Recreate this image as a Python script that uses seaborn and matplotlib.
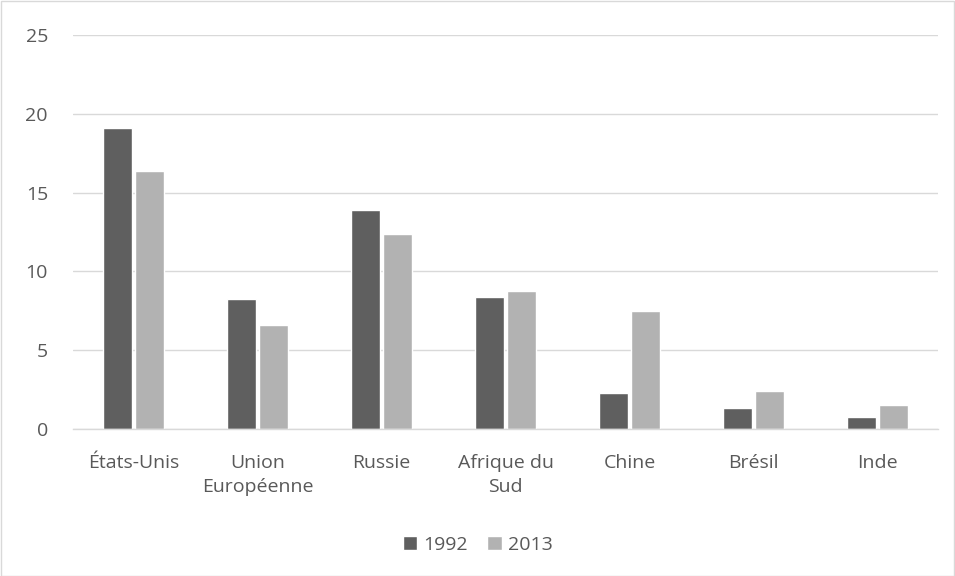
import matplotlib
matplotlib.use("Agg")
import matplotlib.pyplot as plt
import seaborn as sns
import pandas as pd
from matplotlib.patches import Rectangle

categories = ["États-Unis", "Union\nEuropéenne", "Russie", "Afrique du\nSud", "Chine", "Brésil", "Inde"]
values_1992 = [19.1, 8.25, 13.9, 8.35, 2.3, 1.35, 0.78]
values_2013 = [16.35, 6.6, 12.4, 8.75, 7.5, 2.38, 1.55]
years = ["1992", "2013"]
y_ticks = [0, 5, 10, 15, 20, 25]

df = pd.DataFrame({
    "pays": categories * 2,
    "valeur": values_1992 + values_2013,
    "annee": [years[0]] * len(categories) + [years[1]] * len(categories),
})

sns.set_theme(style="white")
plt.rcParams["font.family"] = ["Open Sans", "DejaVu Sans"]
text_color = "#595959"

fig = plt.figure(figsize=(9.55, 5.76), dpi=100)
ax = fig.add_axes([73 / 955, 1 - 429 / 576, (938 - 73) / 955, (429 - 35) / 576])

sns.barplot(data=df, x="pays", y="valeur", hue="annee", order=categories,
            hue_order=years, palette=["#5f5f5f", "#b2b2b2"], width=0.52, gap=0.1,
            saturation=1, ax=ax, legend=True)

ax.set_ylim(0, 25)
ax.set_xlim(-0.49, len(categories) - 0.51)
ax.set_yticks(y_ticks)
ax.yaxis.grid(True, color="#d9d9d9", linewidth=1)
ax.set_axisbelow(True)
for s in ["top", "right", "left"]:
    ax.spines[s].set_visible(False)
ax.spines["bottom"].set_color("#d9d9d9")
ax.spines["bottom"].set_linewidth(1)
ax.set_xlabel("")
ax.set_ylabel("")
ax.tick_params(axis="both", length=0, labelsize=14, colors=text_color)
ax.tick_params(axis="y", pad=18)
ax.tick_params(axis="x", pad=18)
for lbl in ax.get_xticklabels():
    lbl.set_linespacing(1.45)

leg = ax.legend(loc="center", bbox_to_anchor=(0.5, 1 - 545 / 576), bbox_transform=fig.transFigure,
                ncol=2, frameon=False, fontsize=14, handlelength=0.75, handleheight=0.75,
                handletextpad=0.3, columnspacing=1.0)
for t in leg.get_texts():
    t.set_color(text_color)

fig.patches.append(Rectangle((0.5 / 955, 0.5 / 576), 1 - 1.5 / 955, 1 - 1.5 / 576,
                             transform=fig.transFigure, fill=False, edgecolor="#d9d9d9",
                             linewidth=1))

fig.savefig("out.png", dpi=100, facecolor="white")
